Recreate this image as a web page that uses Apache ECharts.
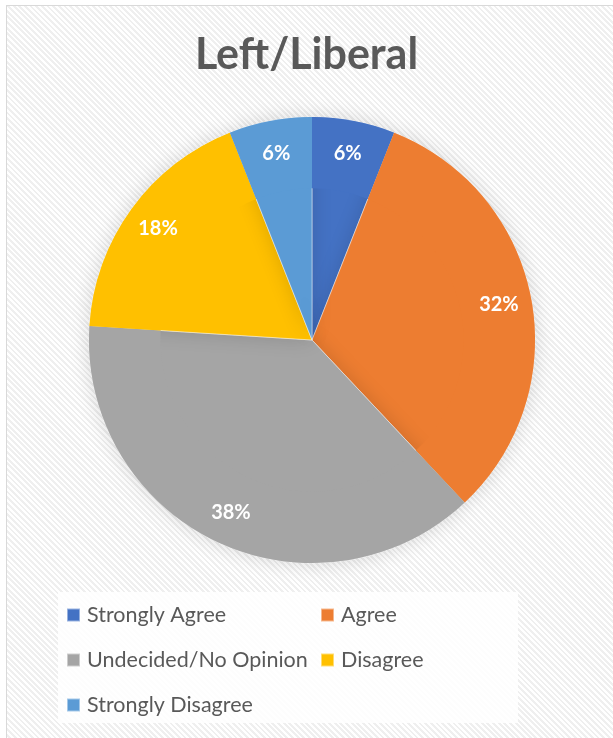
<!DOCTYPE html>
<html>
<head>
<meta charset="utf-8">
<script src="https://cdn.jsdelivr.net/npm/echarts@6/dist/echarts.min.js"></script>
<style>
  html, body { margin: 0; padding: 0; background: #fff; }
  #frame {
    position: absolute; left: 6px; top: 5px; width: 620px; height: 750px;
    border: 1px solid #d9d9d9;
    background: repeating-linear-gradient(45deg, #ffffff 0px, #ffffff 2px, #efefef 2px, #efefef 4px);
  }
  #chart { position: absolute; left: 0; top: 0; width: 613px; height: 738px; }
</style>
</head>
<body>
<div id="frame"></div>
<div id="chart"></div>
<script>
const categories = ["Strongly Agree", "Agree", "Undecided/No Opinion", "Disagree", "Strongly Disagree"];
const shares = [6, 32, 38, 18, 6];
const colors = ["#4472C4", "#ED7D31", "#A5A5A5", "#FFC000", "#5B9BD5"];
const leftColumn = ["Strongly Agree", "Undecided/No Opinion", "Strongly Disagree"];
const rightColumn = ["Agree", "Disagree"];

const pieData = categories.map((name, i) => ({
  name,
  value: shares[i],
  itemStyle: { color: colors[i] },
}));

const center = [312, 340];
const radius = 223;
const textColor = "#595959";

const legendBase = {
  orient: "vertical",
  top: 602,
  padding: 0,
  icon: "rect",
  itemWidth: 13,
  itemHeight: 13,
  itemGap: 19,
  selectedMode: false,
  textStyle: { color: textColor, fontFamily: "Lato", fontSize: 21.5, lineHeight: 26, padding: [0, 0, 0, 2] },
};

const chart = echarts.init(document.getElementById("chart"), null, { renderer: "canvas" });
chart.setOption({
  animation: false,
  color: colors,
  title: {
    text: "Left/Liberal",
    left: "center",
    top: 29,
    textStyle: { color: textColor, fontFamily: "Lato", fontWeight: "bold", fontSize: 43 },
  },
  graphic: [{
    type: "rect",
    shape: { x: 58, y: 592, width: 460, height: 131 },
    style: { fill: "rgba(255,255,255,0.85)" },
    z: -1,
  }],
  legend: [
    Object.assign({}, legendBase, { left: 66, data: leftColumn }),
    Object.assign({}, legendBase, { left: 320, data: rightColumn }),
  ],
  series: [
    {
      type: "pie",
      center,
      radius: [0, radius],
      startAngle: 90,
      clockwise: true,
      data: pieData,
      label: { show: false },
      labelLine: { show: false },
      itemStyle: {
        borderColor: "rgba(255,255,255,0.45)",
        borderWidth: 1,
        shadowBlur: 20,
        shadowColor: "rgba(0,0,0,0.15)",
      },
      emphasis: { disabled: true },
      silent: true,
    },
    {
      // label carrier: ring so "inside" labels sit near the rim
      type: "pie",
      center,
      radius: [radius * 0.68, radius],
      startAngle: 90,
      clockwise: true,
      data: pieData,
      itemStyle: { color: "rgba(0,0,0,0)" },
      label: {
        show: true,
        position: "inside",
        formatter: (p) => p.value + "%",
        color: "#fff",
        fontFamily: "Lato",
        fontWeight: "bold",
        fontSize: 20,
      },
      labelLine: { show: false },
      emphasis: { disabled: true },
      silent: true,
    },
  ],
});
</script>
</body>
</html>
